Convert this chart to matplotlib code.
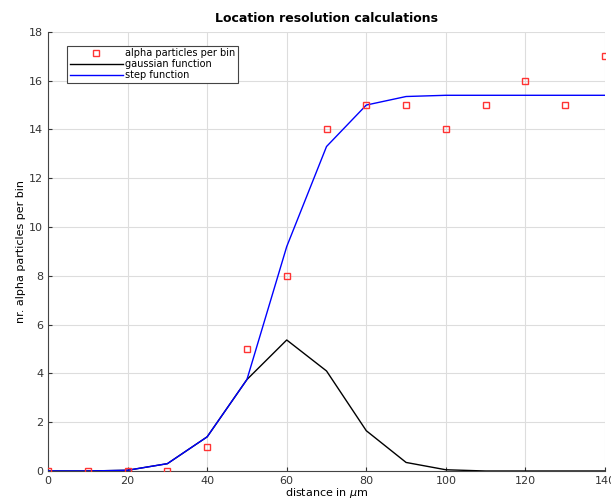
import numpy as np
import matplotlib.pyplot as plt

# data
distance = [0, 10, 20, 30, 40, 50, 60, 70, 80, 90, 100, 110, 120, 130, 140]
alpha_counts = [0, 0, 0, 0, 1, 5, 8, 14, 15, 15, 14, 15, 16, 15, 17]
gauss_vals = [0, 0, 0.03, 0.3, 1.4, 3.75, 5.37, 4.1, 1.65, 0.35, 0.05, 0.0, 0.0, 0.0, 0.0]
step_vals = [0, 0, 0.03, 0.3, 1.4, 3.75, 9.2, 13.3, 15.0, 15.35, 15.4, 15.4, 15.4, 15.4, 15.4]

fig = plt.figure(figsize=(6.11, 5.01), dpi=100)
ax = fig.add_axes([0.0786, 0.0599, 0.9116, 0.8765])

ax.plot(distance, alpha_counts, 's', color='#ff3333', markerfacecolor='none',
        markersize=5, markeredgewidth=1.0, label='alpha particles per bin', zorder=4)
ax.plot(distance, gauss_vals, color='black', lw=1.0, label='gaussian function', zorder=2)
ax.plot(distance, step_vals, color='blue', lw=1.0, label='step function', zorder=3)

ax.set_xlim(0, 140)
ax.set_ylim(0, 18)
ax.set_xticks(np.arange(0, 141, 20))
ax.set_yticks(np.arange(0, 19, 2))
ax.grid(True, color='#dddddd', lw=0.8)
ax.set_axisbelow(True)
ax.tick_params(direction='in', labelsize=8, length=3, colors='#333333')
for s in ['top', 'right']:
    ax.spines[s].set_visible(False)
for s in ['left', 'bottom']:
    ax.spines[s].set_color('#444444')

ax.set_title('Location resolution calculations', fontsize=9, fontweight='bold', pad=7)
ax.set_xlabel(r'distance in $\mu$m', fontsize=8, labelpad=0)
ax.set_ylabel('nr. alpha particles per bin', fontsize=8, labelpad=2)

leg = ax.legend(loc='upper left', fontsize=7, fancybox=False, edgecolor='#444444',
                framealpha=1, borderpad=0.3, labelspacing=0.1, handlelength=5.5,
                handletextpad=0.2, bbox_to_anchor=(0.025, 0.98))
leg.get_frame().set_linewidth(0.8)

plt.savefig('out.png', dpi=100)
